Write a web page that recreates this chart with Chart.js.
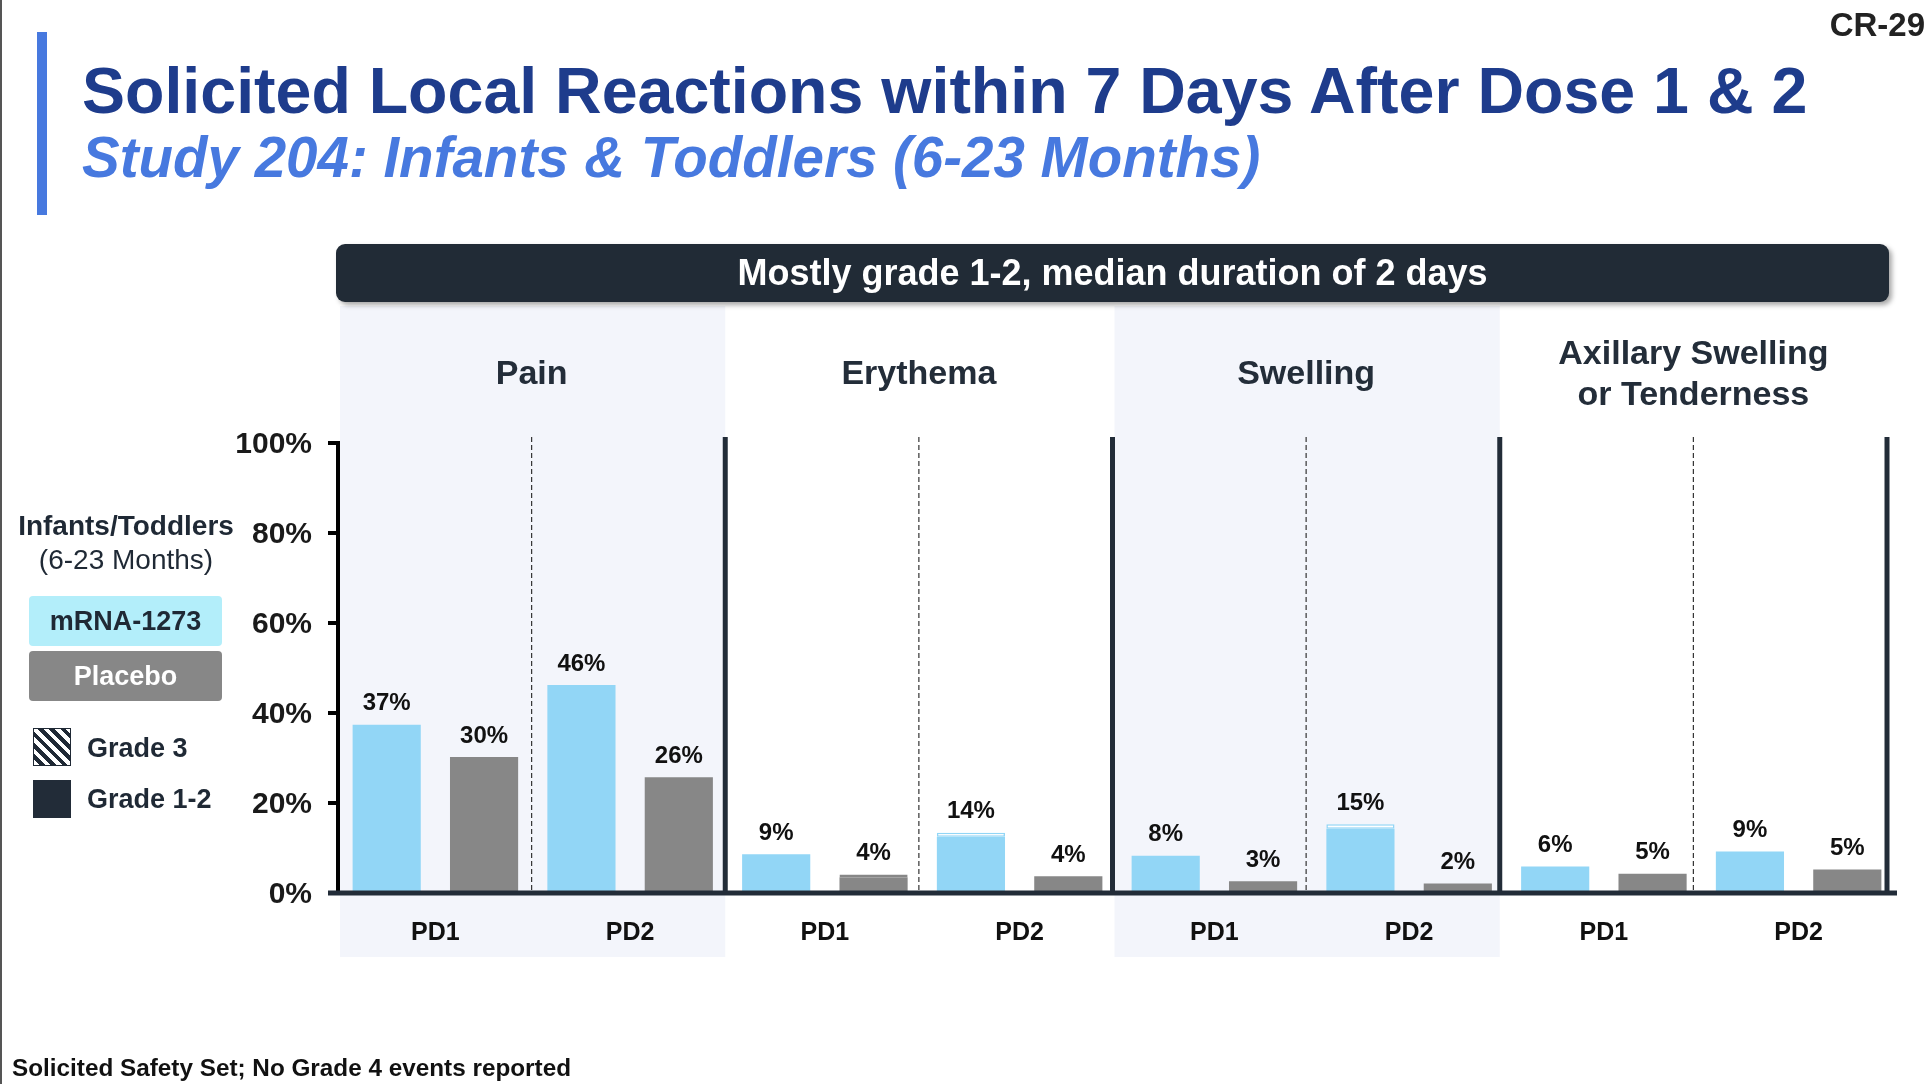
<!DOCTYPE html>
<html>
<head>
<meta charset="utf-8">
<script src="https://cdn.jsdelivr.net/npm/chart.js@4.4.1/dist/chart.umd.min.js"></script>
<style>
  body { margin: 0; background: #fff; font-family: 'Liberation Sans', Arial, sans-serif; }
  #page { position: relative; width: 1928px; height: 1084px; overflow: hidden; background: #fff; }
  #chart { position: absolute; left: 0; top: 0; }
  .abs { position: absolute; white-space: nowrap; }
  #edge { left: 0; top: 0; width: 2px; height: 1084px; background: #555; }
  #accent { left: 37px; top: 32px; width: 10px; height: 183px; background: #4779df; }
  #title { left: 82px; top: 59px; font-size: 64.5px; line-height: 64px; font-weight: bold; color: #1e3c8c; }
  #subtitle { left: 82px; top: 130px; font-size: 56.5px; line-height: 56px; font-weight: bold; font-style: italic; color: #4779df; }
  #code { right: 3px; top: 9px; font-size: 33px; line-height: 32px; font-weight: bold; color: #222; }
  #banner { left: 336px; top: 244px; width: 1553px; height: 58px; background: #212b36; border-radius: 9px;
            box-shadow: 3px 3px 5px rgba(0,0,0,0.35); color: #fff; font-size: 36px; font-weight: bold;
            display: flex; align-items: center; justify-content: center; z-index: 2; }
  .legtxt { color: #1f2935; font-size: 28px; text-align: center; width: 240px; left: 6px; }
  .box { left: 29px; width: 193px; height: 50px; border-radius: 4px; font-size: 27px; font-weight: bold;
         display: flex; align-items: center; justify-content: center; }
  .icon { left: 33px; width: 38px; height: 38px; box-sizing: border-box; }
  .gtxt { left: 87px; font-size: 27px; font-weight: bold; color: #1f2935; line-height: 38px; }
  #foot { left: 12px; top: 1054px; font-size: 24.3px; font-weight: bold; color: #111; }
</style>
</head>
<body>
<div id="page">
  <canvas id="chart" width="1928" height="1084"></canvas>
  <div class="abs" id="edge"></div>
  <div class="abs" id="accent"></div>
  <div class="abs" id="title">Solicited Local Reactions within 7 Days After Dose 1 &amp; 2</div>
  <div class="abs" id="subtitle">Study 204: Infants &amp; Toddlers (6-23 Months)</div>
  <div class="abs" id="code">CR-29</div>
  <div class="abs" id="banner">Mostly grade 1-2, median duration of 2 days</div>

  <div class="abs legtxt" style="top:510px; font-weight:bold;">Infants/Toddlers</div>
  <div class="abs legtxt" style="top:544px;">(6-23 Months)</div>
  <div class="abs box" style="top:596px; background:#b3eefa; color:#1f2935;">mRNA-1273</div>
  <div class="abs box" style="top:651px; background:#878787; color:#fff;">Placebo</div>
  <div class="abs icon" style="top:728px; border:1.5px solid #1f2935;
       background: repeating-linear-gradient(45deg, #fff 0px, #fff 4px, #1f2935 4px, #1f2935 8px);"></div>
  <div class="abs gtxt" style="top:729px;">Grade 3</div>
  <div class="abs icon" style="top:780px; background:#222c38;"></div>
  <div class="abs gtxt" style="top:780px;">Grade 1-2</div>

  <div class="abs" id="foot">Solicited Safety Set; No Grade 4 events reported</div>
</div>

<script>
// ---------------- Data ----------------
const groupNames = [['Pain'], ['Erythema'], ['Swelling'], ['Axillary Swelling', 'or Tenderness']];
const doseLabels = ['PD1', 'PD2', 'PD1', 'PD2', 'PD1', 'PD2', 'PD1', 'PD2'];
const yTicks = [0, 20, 40, 60, 80, 100];

const mrnaGrade12 = [37.4, 46.2, 8.6, 12.5, 8.3, 14.3, 5.9, 9.2];
const mrnaGrade3 = [0, 0, 0, 0.9, 0, 1.0, 0, 0];
const placeboGrade12 = [30.2, 25.7, 3.5, 3.7, 2.6, 2.1, 4.3, 5.2];
const placeboGrade3 = [0, 0, 0.6, 0, 0, 0, 0, 0];

const mrnaPct = ['37%', '46%', '9%', '14%', '8%', '15%', '6%', '9%'];
const placeboPct = ['30%', '26%', '4%', '4%', '3%', '2%', '5%', '5%'];

const BLUE = '#92d6f6';
const GRAY = '#878787';
const DARK = '#222c38';
const FONT = "'Liberation Sans', Arial, sans-serif";

Chart.defaults.font.family = FONT;

// frame of the panels: the separators sit a bit inside the bar area on the right
function frame(a) {
    const right = a.right - 9;
    return { left: a.left, right: right, w: (right - a.left) / doseLabels.length };
}

// panels, separators, headings and value labels
const decor = {
    id: 'decor',
    beforeDraw(chart) {
        const { ctx, chartArea: a } = chart;
        const f = frame(a);
        ctx.save();
        ctx.fillStyle = '#f3f5fb';
        [0, 2].forEach(g => {
            const x0 = f.left + g * 2 * f.w;
            ctx.fillRect(x0 + 2, 306, 2 * f.w - 2, 957 - 306);
        });
        ctx.fillStyle = '#232d39';
        ctx.font = 'bold 34px ' + FONT;
        ctx.textAlign = 'center';
        ctx.textBaseline = 'middle';
        groupNames.forEach((lines, g) => {
            const cx = f.left + (g * 2 + 1) * f.w;
            if (lines.length === 1) {
                ctx.fillText(lines[0], cx, 375);
            } else {
                ctx.fillText(lines[0], cx, 355);
                ctx.fillText(lines[1], cx, 396);
            }
        });
        ctx.restore();
    },
    afterDatasetsDraw(chart) {
        const { ctx, chartArea: a, scales: { y } } = chart;
        const f = frame(a);
        const y0 = y.getPixelForValue(0);
        ctx.save();
        // dashed dose separators
        ctx.strokeStyle = '#333';
        ctx.lineWidth = 1.2;
        ctx.setLineDash([5, 3]);
        for (let g = 0; g < 4; g++) {
            const x = f.left + (2 * g + 1) * f.w;
            ctx.beginPath(); ctx.moveTo(x, 437); ctx.lineTo(x, y0); ctx.stroke();
        }
        ctx.setLineDash([]);
        // thick group separators
        ctx.strokeStyle = DARK;
        ctx.lineWidth = 5;
        for (let g = 1; g <= 4; g++) {
            const x = f.left + 2 * g * f.w;
            ctx.beginPath(); ctx.moveTo(x, 437); ctx.lineTo(x, y0); ctx.stroke();
        }
        // y axis line
        ctx.strokeStyle = '#000';
        ctx.lineWidth = 4;
        ctx.beginPath(); ctx.moveTo(a.left, y.getPixelForValue(100) - 2); ctx.lineTo(a.left, y0); ctx.stroke();
        // x axis line
        ctx.strokeStyle = DARK;
        ctx.lineWidth = 5;
        ctx.beginPath(); ctx.moveTo(a.left - 10, y0); ctx.lineTo(a.right + 1, y0); ctx.stroke();

        // value labels
        ctx.fillStyle = '#111';
        ctx.font = 'bold 24px ' + FONT;
        ctx.textAlign = 'center';
        ctx.textBaseline = 'middle';
        const m = chart.getDatasetMeta(0).data;
        const p = chart.getDatasetMeta(2).data;
        doseLabels.forEach((_, i) => {
            const mt = y.getPixelForValue(mrnaGrade12[i] + mrnaGrade3[i]);
            const pt = y.getPixelForValue(placeboGrade12[i] + placeboGrade3[i]);
            ctx.fillText(mrnaPct[i], m[i].x, mt - 21);
            ctx.fillText(placeboPct[i], p[i].x, pt - 21);
        });
        ctx.restore();
    }
};

const ctx = document.getElementById('chart').getContext('2d');
new Chart(ctx, {
    type: 'bar',
    data: {
        labels: doseLabels,
        datasets: [
            { label: 'mRNA-1273 Grade 1-2', data: mrnaGrade12, stack: 'm', backgroundColor: BLUE },
            { label: 'mRNA-1273 Grade 3', data: mrnaGrade3.map(v => v || null), stack: 'm',
              backgroundColor: '#fff', borderColor: BLUE, borderWidth: 1.5, borderSkipped: false },
            { label: 'Placebo Grade 1-2', data: placeboGrade12, stack: 'p', backgroundColor: GRAY },
            { label: 'Placebo Grade 3', data: placeboGrade3.map(v => v || null), stack: 'p',
              backgroundColor: '#fff', borderColor: GRAY, borderWidth: 1.5, borderSkipped: false }
        ]
    },
    options: {
        responsive: false,
        animation: false,
        devicePixelRatio: 1,
        categoryPercentage: 1.0,
        barPercentage: 0.7,
        layout: { padding: { top: 443, right: 32, bottom: 0, left: 0 } },
        plugins: { legend: { display: false }, tooltip: { enabled: false } },
        scales: {
            x: {
                stacked: true,
                grid: { display: false },
                border: { display: false },
                ticks: { color: '#111', font: { size: 25, weight: 'bold' }, padding: 17, maxRotation: 0, autoSkip: false },
                afterFit: s => { s.height = 191; }
            },
            y: {
                stacked: true,
                min: 0, max: 100,
                afterBuildTicks: s => { s.ticks = yTicks.map(v => ({ value: v })); },
                grid: { drawOnChartArea: false, color: '#000', lineWidth: 4, tickLength: 10 },
                border: { display: false },
                ticks: { color: '#1a1a1a', font: { size: 30, weight: 'bold' }, padding: 16, labelOffset: 2,
                         callback: v => v + '%' },
                afterFit: s => { s.width = 338; }
            }
        }
    },
    plugins: [decor]
});
</script>
</body>
</html>
